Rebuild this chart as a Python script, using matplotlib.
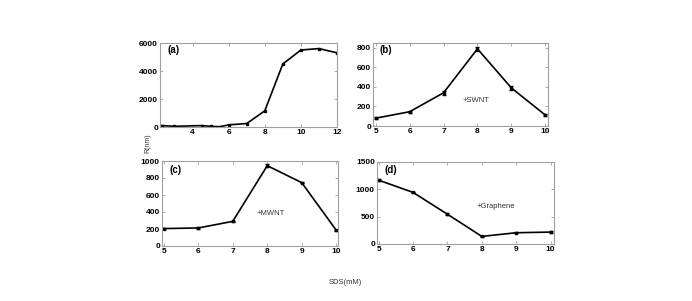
import matplotlib.pyplot as plt

# panel data
x_a = [2.3, 3, 4.5, 5, 5.5, 6, 7, 8, 9, 10, 11, 12]
y_a = [100, 50, 100, 50, 20, 150, 250, 1150, 4500, 5500, 5600, 5300]

x_b = [5, 6, 7, 8, 9, 10]
y_b = [80, 146, 340, 790, 390, 112]
err_b = [10, 8, 20, 20, 18, 12]

x_c = [5, 6, 7, 8, 9, 10]
y_c = [205, 212, 290, 945, 745, 185]
err_c = [10, 8, 8, 15, 8, 8]

x_d = [5, 6, 7, 8, 9, 10]
y_d = [1167, 944, 544, 139, 206, 218]
err_d = [20, 15, 15, 12, 12, 12]

plt.rcParams['font.family'] = ['Liberation Sans', 'DejaVu Sans']

fig = plt.figure(figsize=(6.92, 3.01), dpi=100)
W, H = 692, 301

def make_ax(l, r, t, b):
    return fig.add_axes([l / W, 1 - b / H, (r - l) / W, (b - t) / H])

def style(ax):
    for s in ax.spines.values():
        s.set_color('#a0a0a0')
        s.set_linewidth(0.8)
    ax.tick_params(direction='in', length=2, width=0.6, color='#a0a0a0',
                   labelsize=6, pad=1.5, top=True, right=True)
    for lab in ax.get_xticklabels() + ax.get_yticklabels():
        lab.set_fontweight('bold')

ax_a = make_ax(160, 337, 43, 127)
ax_a.plot(x_a, y_a, '-', color='black', lw=1.2, marker='s', ms=1.8)
ax_a.set_xlim(2.2, 12)
ax_a.set_ylim(0, 6000)
ax_a.set_xticks([4, 6, 8, 10, 12])
ax_a.set_yticks([0, 2000, 4000, 6000])
ax_a.text(0.04, 0.88, '(a)', transform=ax_a.transAxes, fontsize=7, fontweight='bold')
style(ax_a)

ax_b = make_ax(373, 548, 43, 126)
ax_b.errorbar(x_b, y_b, yerr=err_b, color='black', lw=1.2, capsize=1.5,
              marker='s', ms=1.8, elinewidth=0.8)
ax_b.set_xlim(4.92, 10.08)
ax_b.set_ylim(0, 850)
ax_b.set_xticks(x_b)
ax_b.set_yticks([0, 200, 400, 600, 800])
ax_b.text(0.04, 0.88, '(b)', transform=ax_b.transAxes, fontsize=7, fontweight='bold')
ax_b.text(7.55, 250, '+SWNT', fontsize=5.5, color='#333333')
style(ax_b)

ax_c = make_ax(162, 338, 161, 246)
ax_c.errorbar(x_c, y_c, yerr=err_c, color='black', lw=1.2, capsize=1.5,
              marker='s', ms=1.8, elinewidth=0.8)
ax_c.set_xlim(4.95, 10.05)
ax_c.set_ylim(0, 1000)
ax_c.set_xticks(x_c)
ax_c.set_yticks([0, 200, 400, 600, 800, 1000])
ax_c.text(0.04, 0.86, '(c)', transform=ax_c.transAxes, fontsize=7, fontweight='bold')
ax_c.text(7.7, 370, '+MWNT', fontsize=5.5, color='#333333')
style(ax_c)

ax_d = make_ax(377, 554, 162, 244)
ax_d.errorbar(x_d, y_d, yerr=err_d, color='black', lw=1.2, capsize=1.5,
              marker='s', ms=1.8, elinewidth=0.8)
ax_d.set_xlim(4.95, 10.1)
ax_d.set_ylim(0, 1500)
ax_d.set_xticks(x_d)
ax_d.set_yticks([0, 500, 1000, 1500])
ax_d.text(0.04, 0.86, '(d)', transform=ax_d.transAxes, fontsize=7, fontweight='bold')
ax_d.text(7.85, 650, '+Graphene', fontsize=5.5, color='#333333')
style(ax_d)

fig.text(148 / W, 1 - 143 / H, 'R(nm)', rotation=90, fontsize=5,
         ha='center', va='center', color='#333333')
fig.text(345 / W, 1 - 282 / H, 'SDS(mM)', fontsize=5.5,
         ha='center', va='center', color='#333333')

fig.savefig('out.png', dpi=100)
